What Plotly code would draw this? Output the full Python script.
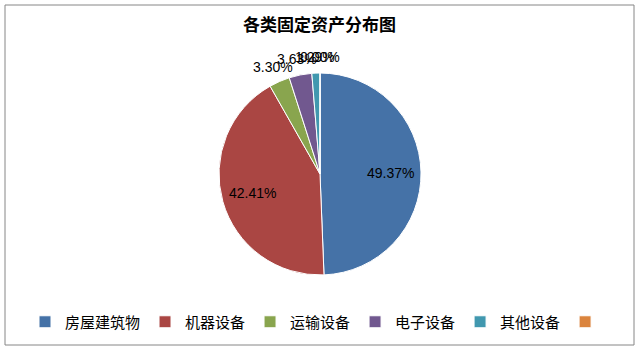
import numpy as np
import plotly.graph_objects as go

categories = ["房屋建筑物", "机器设备", "运输设备", "电子设备", "其他设备", " "]
values = [49.37, 42.41, 3.30, 3.63, 1.29, 0.00]
colors = ["#4572A7", "#AA4643", "#89A54E", "#71588F", "#4198AF", "#DB843D"]
title = "各类固定资产分布图"

W, H = 639, 351
cx, cy, r = 320, 174, 101

fig = go.Figure(go.Pie(
    labels=categories,
    values=values,
    marker=dict(colors=colors, line=dict(color="white", width=1)),
    sort=False,
    direction="clockwise",
    rotation=0,
    textinfo="none",
    showlegend=True,
    domain=dict(x=[(cx - r) / W, (cx + r) / W], y=[1 - (cy + r) / H, 1 - (cy - r) / H]),
    hoverinfo="label+percent",
))

# percentage labels placed at each slice's mid-angle (inside for big slices, outside for small)
vals = np.array(values, dtype=float)
frac = vals / vals.sum()
mid = (np.cumsum(frac) - frac / 2) * 2 * np.pi
annotations = []
for f, a in zip(frac, mid):
    R = 0.7 * r if f > 0.2 else r + 16
    x = cx + R * np.sin(a)
    y = cy - R * np.cos(a)
    annotations.append(dict(
        x=x / W, y=1 - y / H, xref="paper", yref="paper",
        text=f"{f:.2%}", showarrow=False, xanchor="center", yanchor="middle",
        font=dict(family="Liberation Sans, Arial, sans-serif", size=14, color="black"),
    ))

fig.update_layout(
    width=W, height=H,
    margin=dict(l=0, r=0, t=0, b=0),
    paper_bgcolor="white",
    title=dict(text="<b>" + title + "</b>", x=0.5, xanchor="center", y=1 - 25 / H, yanchor="middle",
               font=dict(family="Noto Sans CJK SC", size=17, color="black")),
    legend=dict(orientation="h", x=0.5, xanchor="center", y=1 - 322 / H, yanchor="middle",
                font=dict(family="Noto Sans CJK SC", size=15, color="black"),
                itemwidth=30, tracegroupgap=0, itemclick=False),
    annotations=annotations,
    shapes=[dict(type="rect", xref="paper", yref="paper",
                 x0=5 / W, x1=634 / W, y0=1 - 345 / H, y1=1 - 5 / H,
                 line=dict(color="#868686", width=1))],
)

fig.write_html("out.html")
